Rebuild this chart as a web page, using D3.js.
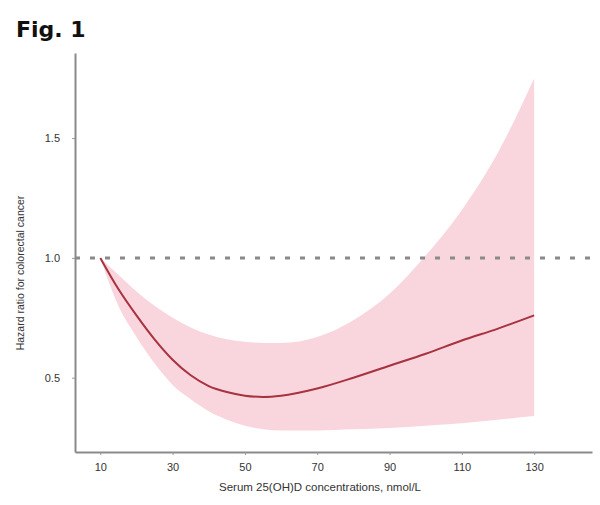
<!DOCTYPE html>
<html><head><meta charset="utf-8">
<script src="https://cdn.jsdelivr.net/npm/d3@7"></script>
<style>body{margin:0;background:#fff}svg{display:block}</style>
</head><body>
<script>
const conc   = [10, 15, 20, 25, 30, 35, 40, 45, 50, 55, 60, 70, 80, 90, 100, 110, 120, 130];
const hr     = [1.0, 0.87, 0.76, 0.66, 0.575, 0.51, 0.465, 0.44, 0.425, 0.42, 0.425, 0.455, 0.50, 0.55, 0.60, 0.655, 0.705, 0.76];
const lower  = [1.0, 0.80, 0.67, 0.56, 0.47, 0.41, 0.36, 0.325, 0.30, 0.285, 0.28, 0.28, 0.285, 0.29, 0.30, 0.31, 0.325, 0.34];
const upper  = [1.0, 0.93, 0.86, 0.80, 0.75, 0.71, 0.68, 0.66, 0.65, 0.645, 0.645, 0.67, 0.74, 0.85, 1.01, 1.20, 1.44, 1.75];
const xTicks = [10, 30, 50, 70, 90, 110, 130];
const yTicks = [0.5, 1.0, 1.5];
const refHR = 1.0;

const W = 600, H = 505;
const m = {left: 75, right: 8, top: 53, bottom: 53};
const svg = d3.select("body").append("svg").attr("width", W).attr("height", H);

const x = d3.scaleLinear().domain([3, 146]).range([m.left, W - m.right]);
const y = d3.scaleLinear().domain([0.19, 1.855]).range([H - m.bottom, m.top]);

const data = conc.map((c, i) => ({c, hr: hr[i], lo: lower[i], up: upper[i]}));

// title
svg.append("text").attr("x", 16).attr("y", 37)
  .attr("font-family", "DejaVu Sans").attr("font-weight", "bold")
  .attr("font-size", 22).attr("fill", "#111").text("Fig. 1");

// band
svg.append("path").datum(data)
  .attr("fill", "#f9d6de")
  .attr("d", d3.area().curve(d3.curveMonotoneX)
    .x(d => x(d.c)).y0(d => y(d.lo)).y1(d => y(d.up)));

// reference line
svg.append("line")
  .attr("x1", x.range()[0]).attr("x2", x.range()[1])
  .attr("y1", y(refHR)).attr("y2", y(refHR))
  .attr("stroke", "#8a8a8a").attr("stroke-width", 3)
  .attr("stroke-dasharray", "5,10");

// HR line
svg.append("path").datum(data)
  .attr("fill", "none").attr("stroke", "#a8323f").attr("stroke-width", 2)
  .attr("d", d3.line().curve(d3.curveMonotoneX).x(d => x(d.c)).y(d => y(d.hr)));

// axes
const xAxis = svg.append("g").attr("transform", `translate(0,${H - m.bottom})`)
  .call(d3.axisBottom(x).tickValues(xTicks).tickSize(3).tickSizeOuter(0).tickPadding(8));
const yAxis = svg.append("g").attr("transform", `translate(${m.left},0)`)
  .call(d3.axisLeft(y).tickValues(yTicks).tickFormat(d3.format(".1f")).tickSize(3).tickSizeOuter(0).tickPadding(12));
[xAxis, yAxis].forEach(g => {
  g.select(".domain").attr("stroke", "#8a8a8a").attr("stroke-width", 2);
  g.selectAll(".tick line").attr("stroke", "#999");
  g.selectAll(".tick text").attr("fill", "#333").attr("font-size", 11)
    .attr("font-family", "Liberation Sans, Arial, sans-serif");
});

// axis labels
svg.append("text").attr("x", 320).attr("y", 491).attr("text-anchor", "middle")
  .attr("font-family", "Liberation Sans, Arial, sans-serif").attr("font-size", 11.5)
  .attr("fill", "#333").text("Serum 25(OH)D concentrations, nmol/L");
svg.append("text").attr("transform", "translate(24,273) rotate(-90)")
  .attr("text-anchor", "middle")
  .attr("font-family", "Liberation Sans, Arial, sans-serif").attr("font-size", 10.5)
  .attr("fill", "#333").text("Hazard ratio for colorectal cancer");
</script>
</body></html>
